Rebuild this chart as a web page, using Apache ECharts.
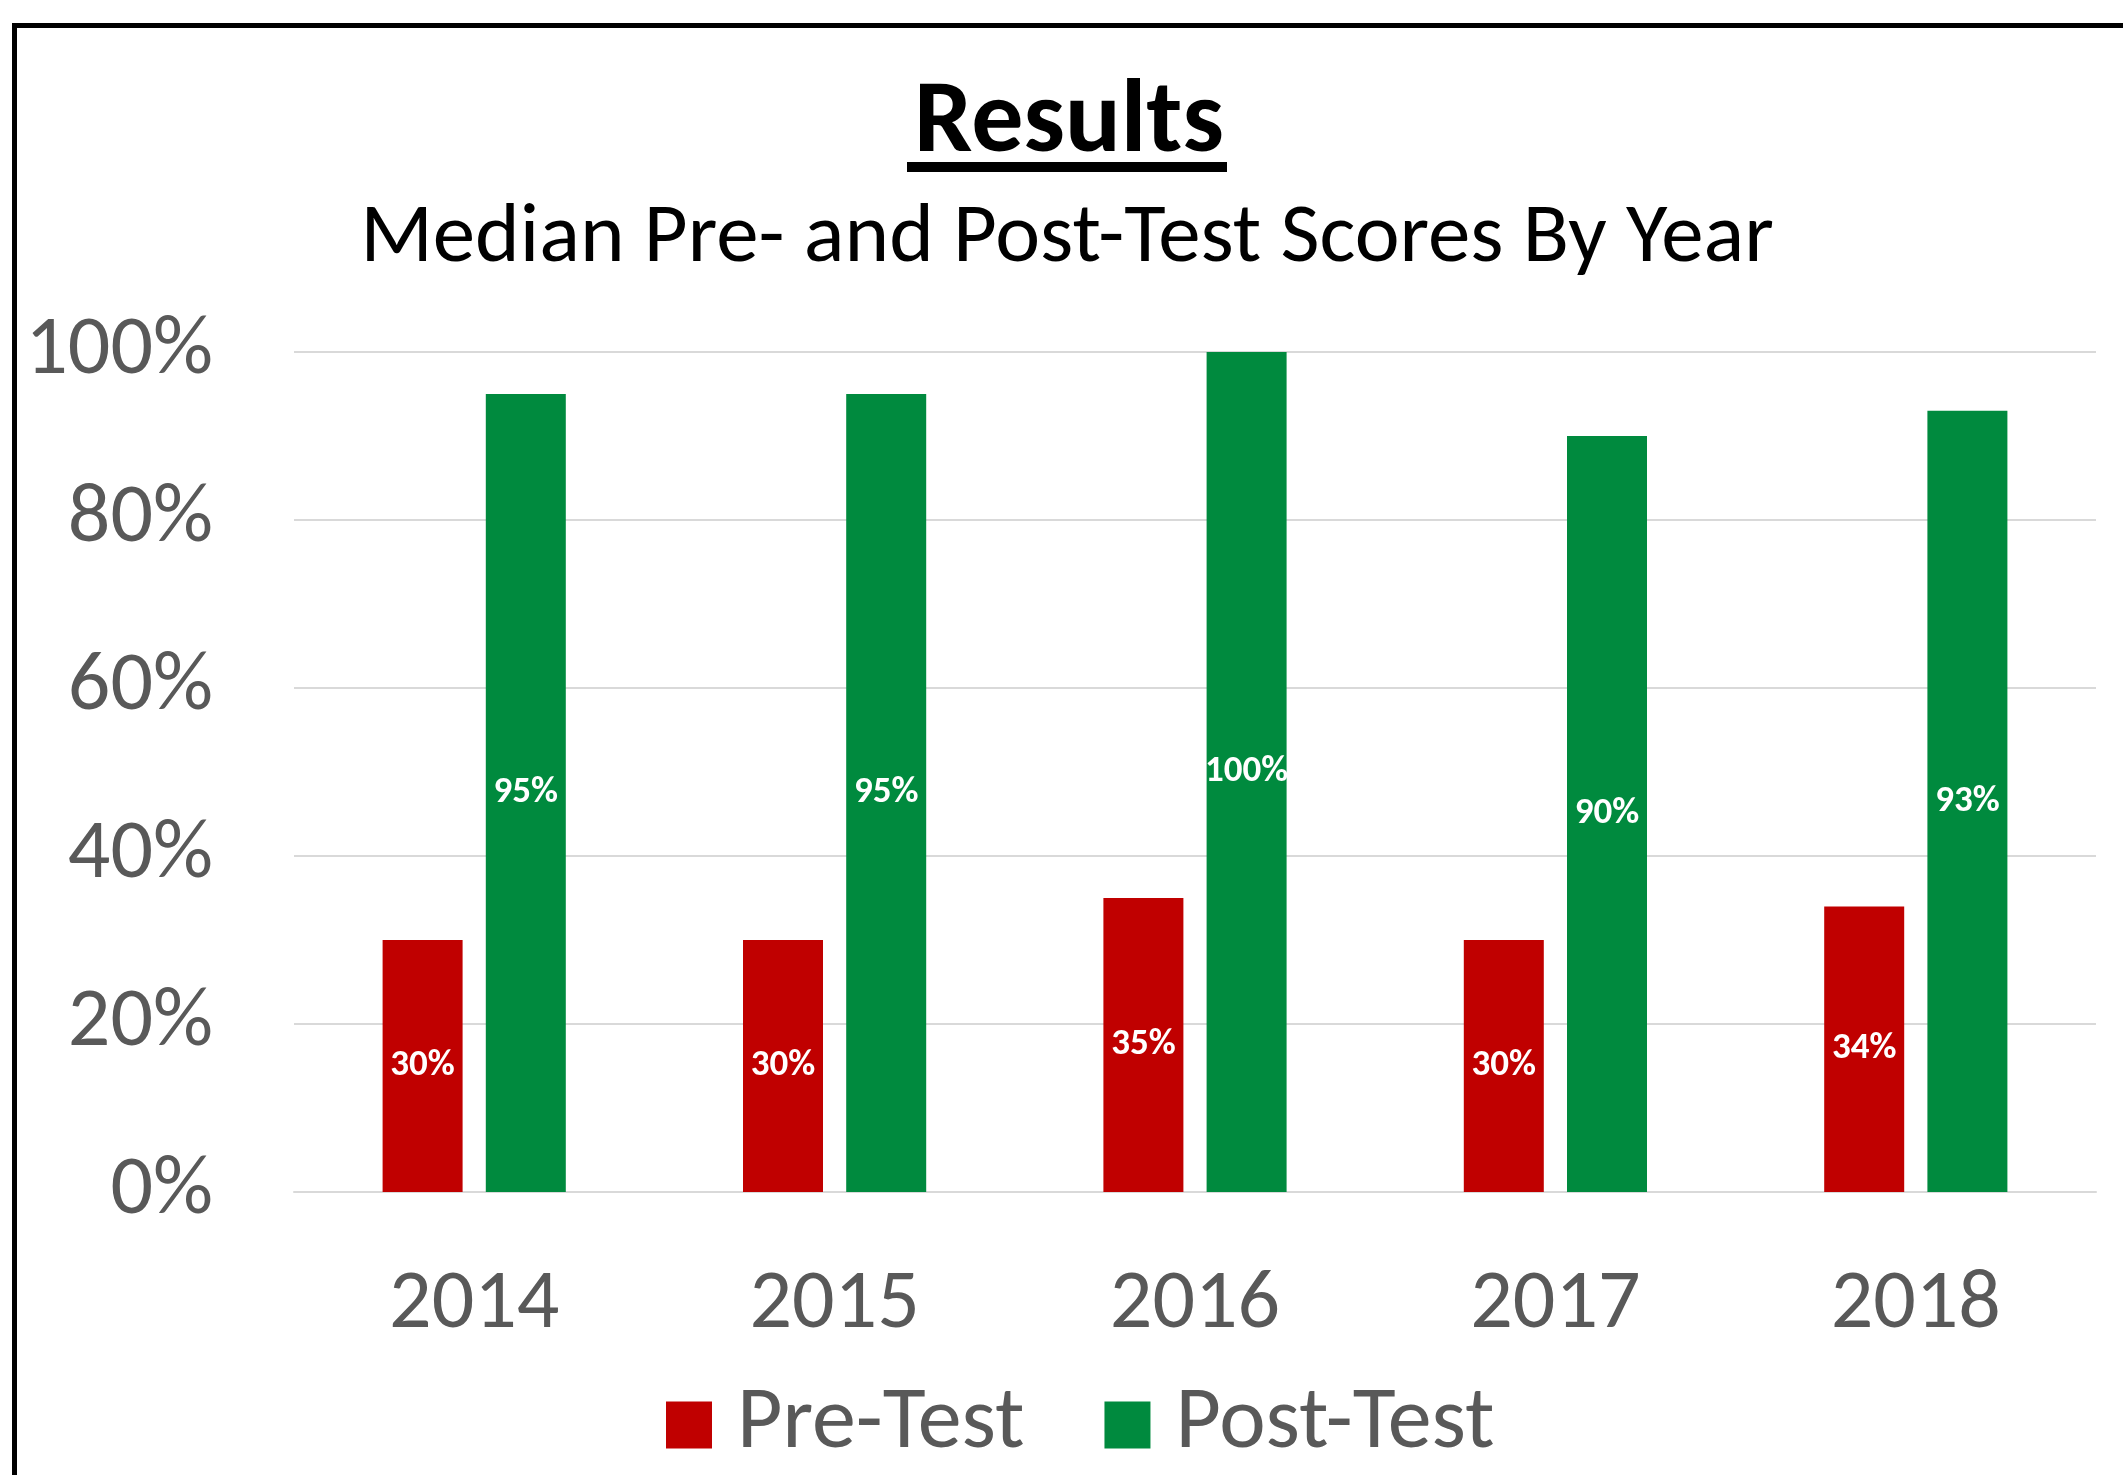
<!DOCTYPE html>
<html>
<head>
<meta charset="utf-8">
<title>Results</title>
<script src="https://cdn.jsdelivr.net/npm/echarts@6/dist/echarts.min.js"></script>
<style>
  html, body { margin: 0; padding: 0; background: #fff; }
  #chart { width: 2123px; height: 1475px; }
</style>
</head>
<body>
<div id="chart"></div>
<script>
// 年份
const years = ['2014', '2015', '2016', '2017', '2018']
// 前测中位数
const preTest = [0.30, 0.30, 0.35, 0.30, 0.34]
// 后测中位数
const postTest = [0.95, 0.95, 1.00, 0.90, 0.93]
const yTicks = [0, 0.2, 0.4, 0.6, 0.8, 1.0]

const FONT = 'Carlito, Lato, sans-serif'
const GREY = '#595959'
const RED = '#C00000'
const GREEN = '#008A3E'

const myChart = echarts.init(document.getElementById('chart'))

const pct = (v) => Math.round(v * 100) + '%'

const option = {
  backgroundColor: '#fff',
  animation: false,
  title: [
    {
      text: 'Results',
      left: 1064,
      textAlign: 'center',
      top: 68,
      textStyle: { fontFamily: FONT, fontSize: 104, fontWeight: 'bold', color: '#000' }
    },
    {
      text: 'Median Pre- and Post-Test Scores By Year',
      left: 1062,
      textAlign: 'center',
      top: 192,
      textStyle: { fontFamily: FONT, fontSize: 85, fontWeight: 'normal', color: '#000' }
    }
  ],
  // 外框 + 标题下划线
  graphic: [
    { type: 'rect', shape: { x: 12, y: 23, width: 2130, height: 5 }, style: { fill: '#000' } },
    { type: 'rect', shape: { x: 12, y: 23, width: 5, height: 1460 }, style: { fill: '#000' } },
    { type: 'rect', shape: { x: 907, y: 162, width: 320, height: 10 }, style: { fill: '#000' } }
  ],
  legend: {
    data: ['Pre-Test', 'Post-Test'],
    left: 666,
    top: 1381,
    padding: 0,
    itemWidth: 46,
    itemHeight: 47,
    itemGap: 80,
    icon: 'rect',
    textStyle: { fontFamily: FONT, fontSize: 88, color: GREY, padding: [0, 0, 0, 20] }
  },
  grid: {
    left: 294,
    right: 27,
    top: 352,
    bottom: 283,
    containLabel: false
  },
  xAxis: {
    type: 'category',
    data: years,
    axisLine: { show: true, lineStyle: { color: '#D9D9D9', width: 2 } },
    axisTick: { show: false },
    axisLabel: { fontFamily: FONT, fontSize: 84, color: GREY, margin: 72 }
  },
  yAxis: {
    type: 'value',
    min: yTicks[0],
    max: yTicks[yTicks.length - 1],
    interval: 0.2,
    axisLine: { show: false },
    axisTick: { show: false },
    splitLine: { lineStyle: { color: '#D9D9D9', width: 2 } },
    axisLabel: {
      fontFamily: FONT,
      fontSize: 84,
      color: GREY,
      margin: 81,
      formatter: (v) => pct(v)
    }
  },
  series: [
    {
      name: 'Pre-Test',
      type: 'bar',
      data: preTest,
      barWidth: 80,
      barGap: '29%',
      itemStyle: { color: RED },
      label: {
        show: true,
        position: 'inside',
        color: '#fff',
        fontFamily: FONT,
        fontWeight: 'bold',
        fontSize: 37,
        formatter: (p) => pct(p.value)
      }
    },
    {
      name: 'Post-Test',
      type: 'bar',
      data: postTest,
      barWidth: 80,
      barGap: '29%',
      itemStyle: { color: GREEN },
      label: {
        show: true,
        position: 'inside',
        color: '#fff',
        fontFamily: FONT,
        fontWeight: 'bold',
        fontSize: 37,
        formatter: (p) => pct(p.value)
      }
    }
  ]
}

myChart.setOption(option)
window.addEventListener('resize', () => myChart.resize())
</script>
</body>
</html>
